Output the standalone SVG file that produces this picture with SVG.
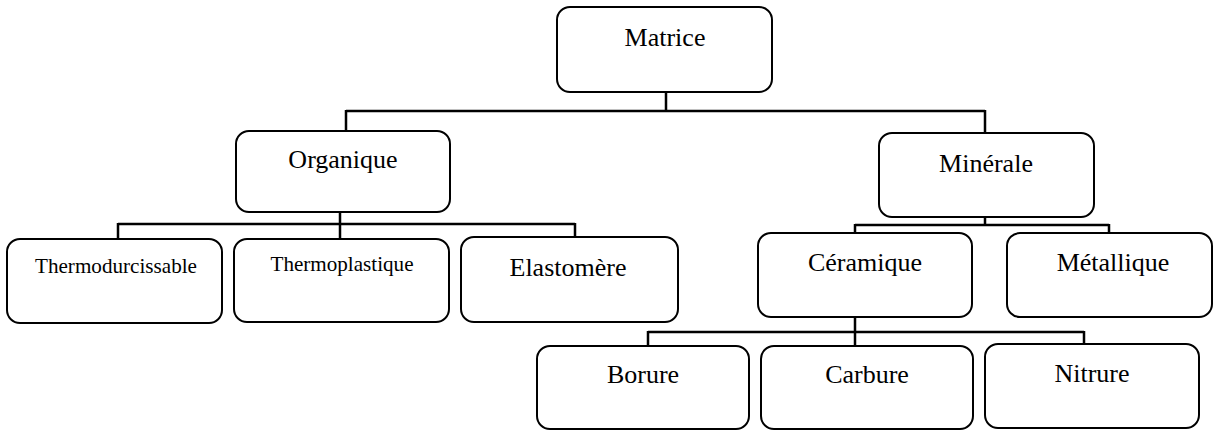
<svg xmlns="http://www.w3.org/2000/svg" width="1214" height="430" viewBox="0 0 1214 430">
<style>
.box{fill:#fff;stroke:#000;stroke-width:2}
.c{fill:none;stroke:#000;stroke-width:2.5}
text{font-family:"Liberation Serif","Times New Roman",serif;font-size:26px;fill:#000;text-anchor:middle}
text.s{font-family:"Liberation Serif","Times New Roman",serif;font-size:22px}
</style>
<g id="connectors">
<path class="c" d="M666,92V111M346,111H985M346,110V131M985,110V133"/>
<path class="c" d="M340,212V224M118,224H575M118,223V239M340,224V239M575,223V237"/>
<path class="c" d="M985,213V225M855,225H1109M855,224V233M1109,224V233"/>
<path class="c" d="M855,317V332M648,332H1084M648,331V346M855,332V346M1084,331V344"/>
</g>
<g id="matrice"><rect class="box" x="557" y="7" width="215" height="85" rx="13"/><text x="665" y="46">Matrice</text></g>
<g id="organique"><rect class="box" x="236" y="131" width="214" height="81" rx="13"/><text x="343" y="168">Organique</text></g>
<g id="minerale"><rect class="box" x="879" y="133" width="215" height="84" rx="13"/><text x="986" y="172">Minérale</text></g>
<g id="thermodurcissable"><rect class="box" x="7" y="239" width="215" height="84" rx="13"/><text class="s" x="116" y="273" textLength="162" lengthAdjust="spacingAndGlyphs">Thermodurcissable</text></g>
<g id="thermoplastique"><rect class="box" x="234" y="239" width="215" height="83" rx="13"/><text class="s" x="342" y="271" textLength="143" lengthAdjust="spacingAndGlyphs">Thermoplastique</text></g>
<g id="elastomere"><rect class="box" x="461" y="237" width="217" height="85" rx="13"/><text x="568" y="276">Elastomère</text></g>
<g id="ceramique"><rect class="box" x="758" y="233" width="214" height="84" rx="13"/><text x="865" y="271">Céramique</text></g>
<g id="metallique"><rect class="box" x="1007" y="233" width="205" height="84" rx="13"/><text x="1113" y="271">Métallique</text></g>
<g id="borure"><rect class="box" x="537" y="346" width="212" height="83" rx="13"/><text x="643" y="383">Borure</text></g>
<g id="carbure"><rect class="box" x="761" y="346" width="212" height="83" rx="13"/><text x="867" y="383">Carbure</text></g>
<g id="nitrure"><rect class="box" x="985" y="344" width="214" height="84" rx="13"/><text x="1092" y="382">Nitrure</text></g>
</svg>
